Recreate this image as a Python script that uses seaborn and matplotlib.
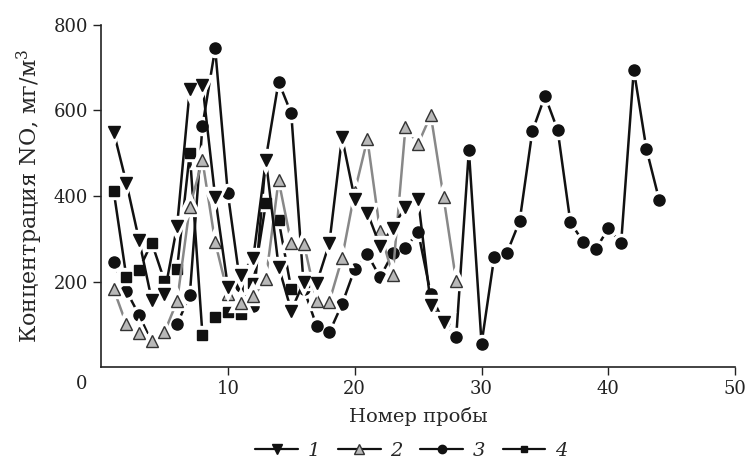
import numpy as np
import pandas as pd
import matplotlib
matplotlib.use("Agg")
import matplotlib.pyplot as plt
import seaborn as sns
from matplotlib.lines import Line2D

# NO concentration, mg/m3, per sample number
conc_1 = [550, 431, 297, 157, 171, 330, 650, 660, 398, 188, 215, 254, 484, 235,
          132, 200, 196, 289, 537, 393, 361, 283, 326, 375, 392, 145, 105]
conc_2 = [182, 100, 79, 62, 81, 154, 375, 483, 292, 171, 149, 165, 205, 437,
          289, 288, 154, 153, 254, 410, 533, 317, 215, 561, 522, 589, 398, 201]
conc_3 = [245, 178, 122, 58, 77, 100, 168, 564, 745, 406, 190, 143, 488, 667,
          593, 182, 96, 81, 147, 229, 264, 210, 266, 278, 316, 170, 105, 70,
          507, 55, 258, 267, 341, 551, 634, 554, 339, 293, 275, 325, 289, 695,
          509, 391]
conc_4 = [412, 211, 228, 291, 202, 230, 501, 75, 118, 128, 123, 197, 383, 344,
          182, 200]
series_labels = ["1", "2", "3", "4"]

sns.set_style("ticks")
plt.rcParams["font.family"] = ["DejaVu Serif"]
plt.rcParams["mathtext.fontset"] = "dejavuserif"

fig = plt.figure(figsize=(7.48, 4.70), dpi=100)
ax = fig.add_axes([0.135, 0.219, 0.848, 0.728])

styles = {
    "1": dict(marker="v", ms=9, line="#111111", face="#111111", edge="#111111"),
    "2": dict(marker="^", ms=9, line="#888888", face="#b8b8b8", edge="#333333"),
    "3": dict(marker="o", ms=8, line="#111111", face="#111111", edge="#111111"),
    "4": dict(marker="s", ms=7, line="#111111", face="#111111", edge="#111111"),
}
data = {"1": conc_1, "2": conc_2, "3": conc_3, "4": conc_4}

# draw order: 3, 4, 2, 1
for key in ["3", "4", "2", "1"]:
    vals = data[key]
    df = pd.DataFrame({"n": np.arange(1, len(vals) + 1), "c": vals})
    st = styles[key]
    # line with white halo around markers (gaps)
    sns.lineplot(data=df, x="n", y="c", ax=ax, color=st["line"], lw=1.8,
                 marker=st["marker"], ms=st["ms"], mec="white", mfc="white",
                 mew=6, estimator=None, sort=False)
    sns.lineplot(data=df, x="n", y="c", ax=ax, color=st["line"], lw=0,
                 marker=st["marker"], ms=st["ms"], mec=st["edge"], mfc=st["face"],
                 mew=1, estimator=None, sort=False)

ax.set_xlim(0, 50)
ax.set_ylim(0, 800)
ax.set_xticks([10, 20, 30, 40, 50])
ax.set_yticks([200, 400, 600, 800])
ax.tick_params(direction="out", length=6, width=1, labelsize=13, colors="#222222")
ax.annotate("0", xy=(0, 0), xycoords="axes fraction", xytext=(-14, -12),
            textcoords="offset points", ha="center", va="center", fontsize=13,
            color="#222222")
for s in ["top", "right"]:
    ax.spines[s].set_visible(False)
for s in ["left", "bottom"]:
    ax.spines[s].set_linewidth(1.2)
    ax.spines[s].set_color("#222222")

ax.set_xlabel("Номер пробы", fontsize=14, labelpad=6)
ax.set_ylabel("Концентрация NO, мг/м$^3$", fontsize=16, labelpad=6)

handles = []
for key in series_labels:
    st = styles[key]
    handles.append(Line2D([], [], color="#111111", lw=1.6, marker=st["marker"],
                          ms=st["ms"] - 2, mfc=st["face"], mec=st["edge"]))
leg = fig.legend(handles, series_labels, loc="lower center",
                 bbox_to_anchor=(0.55, -0.015), ncol=4, frameon=False,
                 handlelength=2.2, columnspacing=0.9, handletextpad=0.5,
                 prop={"family": "DejaVu Serif", "style": "italic", "size": 14})

fig.savefig("out.png", dpi=100)
